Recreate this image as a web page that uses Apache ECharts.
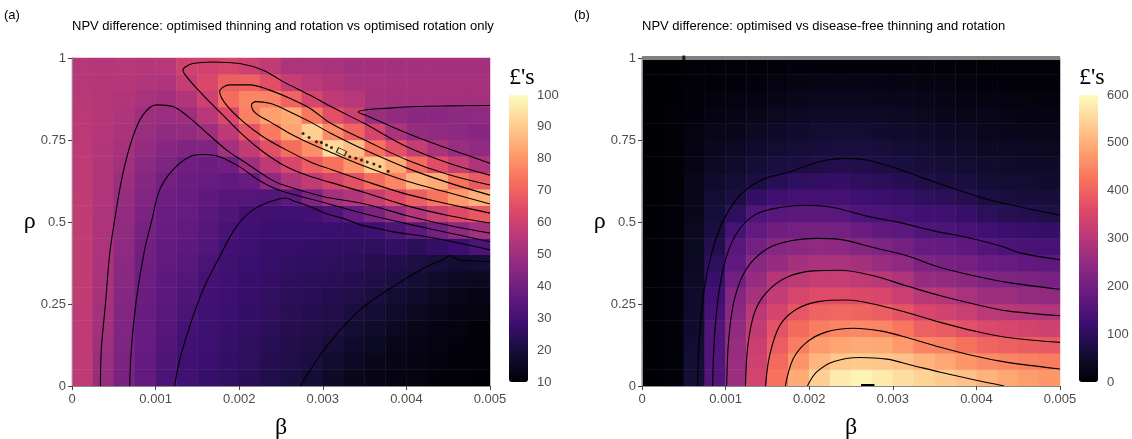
<!DOCTYPE html>
<html>
<head>
<meta charset="utf-8">
<title>NPV difference</title>
<script src="https://cdn.jsdelivr.net/npm/echarts@6/dist/echarts.min.js"></script>
<style>
  html, body { margin: 0; background: #fff; }
  #chart { width: 1132px; height: 439px; }
</style>
</head>
<body>
<div id="chart"></div>
<script>
// raster cell centres
const betaCells = [0.000125, 0.000375, 0.000625, 0.000875, 0.001125, 0.001375, 0.001625, 0.001875, 0.002125, 0.002375,
  0.002625, 0.002875, 0.003125, 0.003375, 0.003625, 0.003875, 0.004125, 0.004375, 0.004625, 0.004875]
const rhoCells = [0.025, 0.075, 0.125, 0.175, 0.225, 0.275, 0.325, 0.375, 0.425, 0.475,
  0.525, 0.575, 0.625, 0.675, 0.725, 0.775, 0.825, 0.875, 0.925, 0.975]

// (a) NPV difference, one array per beta column, rho from bottom to top
const npvThinRot = [
  [57, 57, 57, 57, 57, 57.5, 57.5, 57.5, 57.5, 57.5, 57.5, 57.5, 57, 57, 56.5, 56, 56, 55.5, 55, 55],
  [48.5, 49, 49.7, 50.3, 51, 51.5, 52, 52.5, 52.8, 53, 53.2, 53.5, 53.8, 54, 54.2, 54.5, 54.5, 54.5, 54.5, 54.5],
  [41.8, 42.3, 42.8, 43.3, 43.8, 44.5, 45.2, 45.8, 46.4, 47, 47.6, 48.4, 49.3, 50.5, 51.5, 52.5, 53.2, 54, 54.5, 55],
  [36.6, 37, 37.4, 37.8, 38.2, 38.6, 39.2, 39.6, 40.2, 41.3, 42.5, 43.5, 44.7, 46, 47.5, 49, 50, 52, 53.5, 54.5],
  [31.9, 32.5, 33.2, 33.9, 34.5, 35.3, 36, 36.7, 37.3, 37.8, 38.4, 39.2, 40.7, 42.8, 45, 47, 48.8, 51, 53.2, 55],
  [29, 29.4, 29.8, 30.3, 31.2, 32.5, 33.6, 34.8, 35.8, 36.6, 37.4, 38.2, 38.9, 39.6, 43, 47.5, 50, 54, 58, 60.5],
  [27.4, 28, 28.3, 28.7, 29, 29.5, 30.2, 31.5, 33, 34, 35, 36, 37.5, 39, 43, 50, 55, 60, 63, 61],
  [25.7, 26.4, 26.8, 27.3, 27.8, 28.3, 28.8, 29.3, 29.8, 31, 32.5, 34, 36.5, 39.7, 51, 56.5, 63, 72, 69, 62],
  [24, 24.9, 25.4, 25.9, 26.5, 27, 27.5, 28, 28.6, 29.1, 29.9, 33.8, 37.9, 50.2, 57.6, 66.5, 76, 77, 69.5, 60],
  [22.4, 23.4, 23.9, 24.3, 25.2, 25.7, 26.3, 26.9, 27.4, 28, 29.3, 33, 46.8, 56.3, 65.6, 75, 82, 76.7, 65.2, 57],
  [20.7, 21.9, 22.4, 23.1, 23.8, 24.5, 25.1, 25.7, 27, 28, 29, 35.8, 53.4, 62.4, 72.4, 83, 84, 70, 58.5, 53],
  [19, 20.5, 21.5, 22.3, 23, 23.8, 24.5, 25.3, 26.5, 27.8, 29.5, 43, 57.5, 68.6, 79, 91, 74.4, 62, 56, 53],
  [16.5, 18, 19.5, 21, 22, 23, 24, 25, 26.2, 27.8, 32.4, 51, 61.7, 73.1, 93, 78.3, 65.6, 57, 54, 52],
  [14.5, 15.8, 17.2, 18.8, 20.4, 21.7, 23, 24.2, 25.6, 27.5, 37.5, 53.5, 65.9, 80, 88, 70, 60, 55, 52, 51],
  [13.5, 14.5, 15.5, 17, 18.5, 20.3, 21.8, 23.2, 25, 28.5, 42.5, 58.5, 72.3, 90, 73.4, 61.7, 49, 51.5, 52, 51],
  [12.5, 13.2, 14, 15.2, 16.8, 18.6, 20.5, 22.5, 26, 32, 48.5, 64.3, 77.3, 84, 65.3, 52.7, 47, 51, 51.5, 51],
  [11.8, 12.3, 13, 13.8, 15, 16.8, 19, 21, 24.5, 35.4, 54.2, 69.1, 86, 71.6, 58.3, 48, 45.5, 51, 51.5, 51],
  [11.2, 11.6, 12.2, 12.8, 13.8, 15.2, 17, 19.8, 26.6, 40.4, 59.3, 73.7, 84, 64.9, 52.4, 47, 45.5, 51, 51.5, 51],
  [10.7, 11, 11.4, 11.9, 12.7, 14, 16, 18.5, 27.8, 46.3, 63.9, 81, 73.5, 58.6, 49, 46, 46, 51, 51.5, 51],
  [10.3, 10.6, 10.9, 11.3, 12, 13, 15, 19, 31.9, 51, 67.4, 85, 68.1, 53, 47, 45, 46.5, 51, 51.5, 51]
]

// (b) NPV difference, same layout
const npvDiseaseFree = [
  [2, 2, 2, 2, 2, 2, 2, 2, 2, 2, 2, 1, 1, 1, 1, 1, 1, 1, 1, 1],
  [7, 7, 7, 6.5, 6.5, 6, 6, 5.5, 5.5, 5, 5, 4.5, 4, 4, 3.5, 3, 3, 2, 2, 1],
  [60, 58, 55, 52, 49, 46, 43, 40, 37, 33, 30, 27, 24, 20, 17, 13, 10, 7, 5, 3],
  [155, 153, 152, 150, 137, 127, 115, 102, 85, 70, 62, 55, 48, 40, 32, 24, 17, 11, 6, 3],
  [262, 258, 255, 247, 238, 229, 199, 177, 164, 136, 100, 72, 60, 48, 38, 29, 21, 14, 8, 4],
  [343, 336, 327, 317, 306, 278, 254, 235, 204, 179, 150, 110, 73, 60, 48, 37, 27, 18, 10, 5],
  [421, 409, 391, 374, 344, 319, 297, 253, 231, 197, 162, 126, 90, 67, 55, 44, 33, 22, 13, 6],
  [495, 466, 437, 412, 380, 347, 311, 275, 239, 204, 168, 134, 102, 73, 62, 51, 40, 29, 18, 9],
  [540, 508, 475, 438, 400, 361, 321, 282, 244, 206, 168, 135, 107, 80, 66, 54, 42, 31, 20, 10],
  [575, 530, 488, 448, 406, 364, 322, 282, 242, 204, 165, 135, 110, 84, 68, 55, 43, 32, 21, 10],
  [590, 535, 494, 450, 402, 358, 314, 274, 230, 190, 148, 124, 100, 82, 67, 54, 42, 31, 20, 10],
  [575, 530, 491, 445, 392, 350, 302, 257, 219, 176, 142, 118, 95, 75, 64, 52, 41, 30, 19, 9],
  [560, 522, 472, 427, 377, 330, 288, 243, 205, 167, 137, 113, 89, 70, 60, 49, 38, 28, 17, 8],
  [545, 505, 446, 395, 350, 303, 254, 217, 182, 150, 126, 102, 78, 65, 55, 44, 34, 24, 15, 7],
  [535, 490, 441, 388, 340, 298, 247, 213, 180, 146, 121, 97, 72, 61, 50, 40, 30, 21, 13, 6],
  [522, 470, 423, 372, 326, 280, 238, 205, 172, 139, 114, 88, 67, 56, 45, 36, 27, 18, 11, 5],
  [505, 455, 403, 355, 308, 263, 223, 190, 155, 128, 100, 73, 60, 50, 40, 32, 24, 16, 9, 4],
  [490, 448, 396, 350, 303, 262, 220, 184, 147, 120, 91, 69, 57, 47, 38, 30, 22, 14, 8, 4],
  [478, 440, 389, 343, 299, 250, 214, 177, 141, 114, 84, 66, 54, 44, 35, 27, 19, 12, 7, 3],
  [470, 435, 384, 336, 295, 244, 209, 172, 137, 110, 78, 64, 52, 42, 33, 25, 18, 11, 6, 3]
]

// (a) contour paths [beta, rho]
const contA20 = [[0.00273, 0], [0.003044, 0.12], [0.003443, 0.232], [0.003842, 0.303], [0.004242, 0.364], [0.00444, 0.386],
  [0.00453, 0.398], [0.00458, 0.39], [0.00464, 0.384], [0.005, 0.379]]
const contA30 = [[0.001228, 0], [0.001287, 0.079], [0.001407, 0.181], [0.001567, 0.293], [0.001766, 0.394], [0.001966, 0.486],
  [0.002166, 0.537], [0.002405, 0.565], [0.00256, 0.573], [0.002645, 0.565], [0.002844, 0.547], [0.003044, 0.525],
  [0.003243, 0.511], [0.003443, 0.492], [0.003643, 0.481], [0.003842, 0.47], [0.004242, 0.455], [0.004641, 0.435], [0.005, 0.415]]
const contA40 = [[0.00069, 0], [0.000709, 0.11], [0.000769, 0.262], [0.000868, 0.415], [0.00095, 0.5], [0.001048, 0.598],
  [0.001207, 0.659], [0.001407, 0.699], [0.001567, 0.706], [0.001766, 0.699], [0.002006, 0.668], [0.00225, 0.625],
  [0.0025, 0.595], [0.003, 0.56], [0.0035, 0.525], [0.004, 0.495], [0.0045, 0.467], [0.005, 0.44]]
const contA50 = [[0.00034, 0], [0.00035, 0.11], [0.0004, 0.25], [0.00045, 0.4], [0.00051, 0.506], [0.000609, 0.648],
  [0.000728, 0.76], [0.000848, 0.826], [0.001008, 0.857], [0.001207, 0.852], [0.001367, 0.826], [0.001527, 0.791],
  [0.001846, 0.72], [0.002086, 0.679], [0.002325, 0.638], [0.0025, 0.615], [0.003, 0.578], [0.0035, 0.555],
  [0.004, 0.52], [0.0045, 0.49], [0.005, 0.466]]
const contA50Hook = [[0.005, 0.855], [0.004521, 0.854], [0.004122, 0.852], [0.00372, 0.846], [0.00352, 0.842], [0.003423, 0.835],
  [0.00352, 0.825], [0.003643, 0.811], [0.003922, 0.78], [0.004321, 0.74], [0.004721, 0.704], [0.005, 0.679]]
const contA60 = [[0.005, 0.643], [0.0045, 0.68], [0.004, 0.73], [0.0035, 0.8], [0.00315, 0.845], [0.002844, 0.887],
  [0.002525, 0.928], [0.002285, 0.963], [0.002006, 0.983], [0.001686, 0.988], [0.001447, 0.983], [0.001327, 0.963],
  [0.001387, 0.938], [0.001567, 0.887], [0.001806, 0.826], [0.002046, 0.765], [0.002285, 0.714], [0.002525, 0.674],
  [0.002804, 0.643], [0.0031, 0.62], [0.0035, 0.59], [0.004, 0.55], [0.0045, 0.52], [0.005, 0.497]]
const contA70 = [[0.005, 0.613], [0.0045, 0.645], [0.004, 0.69], [0.0035, 0.75], [0.0031, 0.8], [0.002844, 0.847],
  [0.002605, 0.877], [0.002365, 0.902], [0.002126, 0.918], [0.001886, 0.918], [0.001766, 0.897], [0.001846, 0.857],
  [0.002046, 0.806], [0.002285, 0.76], [0.002525, 0.725], [0.002844, 0.684], [0.0031, 0.66], [0.0035, 0.625],
  [0.004, 0.585], [0.0045, 0.555], [0.005, 0.527]]
const contA80 = [[0.005, 0.582], [0.0045, 0.62], [0.004, 0.665], [0.0035, 0.72], [0.0031, 0.77], [0.002844, 0.806],
  [0.002565, 0.841], [0.002365, 0.862], [0.0022, 0.867], [0.002146, 0.857], [0.0022, 0.831], [0.002365, 0.806],
  [0.002605, 0.77], [0.002844, 0.74], [0.0031, 0.712], [0.0035, 0.67], [0.004, 0.625], [0.0045, 0.59], [0.005, 0.555]]
// small islands along the ridge crest
const ridgeIslands = [[0.002764, 0.77], [0.002836, 0.758], [0.002924, 0.745], [0.002984, 0.742], [0.003044, 0.735],
  [0.003104, 0.727], [0.003323, 0.699], [0.003395, 0.694], [0.003463, 0.689], [0.003531, 0.683], [0.003611, 0.677],
  [0.003683, 0.669], [0.003782, 0.655]]
const ridgeLoop = [[0.003224, 0.714]]

// (b) contour paths, levels 75 apart
const contB075 = [[0.000665, 0], [0.000685, 0.143], [0.000745, 0.295], [0.000825, 0.397], [0.000925, 0.478], [0.001046, 0.539],
  [0.001206, 0.59], [0.001446, 0.63], [0.001727, 0.65], [0.001968, 0.671], [0.002208, 0.689], [0.002448, 0.694],
  [0.002689, 0.689], [0.003008, 0.666], [0.00341, 0.63], [0.00381, 0.595], [0.00421, 0.564], [0.005, 0.521]]
const contB150 = [[0.000845, 0], [0.000865, 0.143], [0.000925, 0.295], [0.001026, 0.407], [0.001166, 0.478], [0.001366, 0.524],
  [0.001647, 0.544], [0.001968, 0.551], [0.002288, 0.544], [0.002689, 0.518], [0.003089, 0.498], [0.003489, 0.473],
  [0.00389, 0.453], [0.004291, 0.427], [0.004531, 0.405], [0.005, 0.385]]
const contB225 = [[0.001013, 0], [0.001037, 0.143], [0.001106, 0.265], [0.001246, 0.356], [0.001487, 0.417], [0.001767, 0.442],
  [0.002087, 0.45], [0.002368, 0.447], [0.002768, 0.422], [0.003169, 0.397], [0.00357, 0.361], [0.00397, 0.336],
  [0.004371, 0.316], [0.005, 0.295]]
const contB300 = [[0.001238, 0], [0.001266, 0.123], [0.001346, 0.224], [0.001487, 0.285], [0.001727, 0.331], [0.002047, 0.351],
  [0.002368, 0.353], [0.002768, 0.336], [0.003169, 0.305], [0.00357, 0.275], [0.00397, 0.25], [0.004371, 0.229], [0.005, 0.214]]
const contB375 = [[0.001478, 0], [0.001526, 0.092], [0.001647, 0.184], [0.001847, 0.234], [0.002127, 0.258], [0.002448, 0.262],
  [0.002768, 0.25], [0.003169, 0.224], [0.00357, 0.194], [0.00397, 0.168], [0.004371, 0.148], [0.005, 0.133]]
const contB450 = [[0.001715, 0], [0.001807, 0.082], [0.001968, 0.133], [0.002208, 0.165], [0.002528, 0.176], [0.002849, 0.168],
  [0.003169, 0.148], [0.00357, 0.118], [0.00397, 0.092], [0.004371, 0.072], [0.005, 0.052]]
const contB525 = [[0.001979, 0], [0.002087, 0.042], [0.002288, 0.074], [0.002608, 0.087], [0.002929, 0.082], [0.003249, 0.062],
  [0.00357, 0.042], [0.00397, 0.019], [0.004331, 0]]
const contB600 = [[0.00262, 0.003], [0.00278, 0.003]]
// rho = 1 row has no value (grey) with one dark cell
const naRowB = [[0, 1], [0.005, 1]]
const darkCellB = [[0.0005, 1]]

const betaTicks = { min: 0, max: 0.005, interval: 0.001 }
const rhoTicks = { min: 0, max: 1, interval: 0.25 }
const magma = ['#000004', '#140e36', '#3b0f70', '#641a80', '#8c2981', '#b73779', '#de4968', '#f7705c', '#fe9f6d', '#fecf92', '#fcfdbf']

const sans = 'Liberation Sans, Arial, sans-serif'
const serif = 'Liberation Serif, Times New Roman, serif'
const border = '#8a8a8a'

function cells (cols) {
  const out = []
  cols.forEach((col, i) => col.forEach((v, j) => out.push([i, j, v])))
  return out
}

function contour (path, xi, extra) {
  return Object.assign({
    type: 'line',
    xAxisIndex: xi,
    yAxisIndex: xi,
    data: path,
    symbol: 'none',
    smooth: 0.35,
    silent: true,
    z: 4,
    lineStyle: { color: '#000', width: 1.1 }
  }, extra || {})
}

const plotTop = 58
const plotH = 328
const plotW = 418
const fixed = { containLabel: false, outerBoundsMode: 'none' }
const grids = [
  Object.assign({ left: 72, top: plotTop, width: plotW, height: plotH }, fixed),
  Object.assign({ left: 642, top: plotTop, width: plotW, height: plotH }, fixed),
  Object.assign({ left: 509, top: 95, width: 19, height: 287 }, fixed),
  Object.assign({ left: 1079, top: 95, width: 19, height: 287 }, fixed)
]

function catX (g, data) {
  return {
    gridIndex: g, type: 'category', data: data, position: 'top', z: 10,
    axisLine: { show: true, lineStyle: { color: border } },
    axisTick: { show: false }, axisLabel: { show: false }, splitLine: { show: false }
  }
}
function catY (g, data) {
  return {
    gridIndex: g, type: 'category', data: data, position: 'right', z: 10,
    axisLine: { show: true, lineStyle: { color: border } },
    axisTick: { show: false }, axisLabel: { show: false }, splitLine: { show: false }
  }
}
function valX (g) {
  return Object.assign({
    gridIndex: g, type: 'value', position: 'bottom', z: 10,
    name: 'β', nameLocation: 'middle', nameGap: 30,
    nameTextStyle: { fontFamily: serif, fontSize: 24, color: '#000' },
    axisLine: { show: true, lineStyle: { color: border } },
    axisTick: { show: true, length: 4, lineStyle: { color: '#444' } },
    axisLabel: { fontFamily: sans, fontSize: 13, color: '#4d4d4d', margin: 7 },
    splitLine: { show: false }
  }, betaTicks)
}
function valY (g) {
  return Object.assign({
    gridIndex: g, type: 'value', position: 'left', z: 10,
    name: 'ρ', nameLocation: 'middle', nameGap: 34, nameRotate: 0,
    nameTextStyle: { fontFamily: serif, fontSize: 24, color: '#000' },
    axisLine: { show: true, lineStyle: { color: border } },
    axisTick: { show: true, length: 4, lineStyle: { color: '#444' } },
    axisLabel: { fontFamily: sans, fontSize: 13, color: '#4d4d4d', margin: 6 },
    splitLine: { show: false }
  }, rhoTicks)
}
function barY (g, min, max, interval) {
  return {
    gridIndex: g, type: 'value', position: 'right', min: min, max: max, interval: interval,
    axisLine: { show: false },
    axisTick: { show: true, inside: true, length: 4, lineStyle: { color: 'rgba(255,255,255,0.7)' } },
    axisLabel: { fontFamily: sans, fontSize: 13, color: '#4d4d4d', margin: 9 },
    splitLine: { show: false }
  }
}
function legendMap (seriesIndex, min, max, left) {
  return {
    type: 'continuous', seriesIndex: seriesIndex, min: min, max: max,
    orient: 'vertical', left: left, top: 95, itemWidth: 19, itemHeight: 287,
    padding: 0, calculable: false, hoverLink: false, realtime: false,
    inRange: { color: magma }
  }
}
function heading (text, left, top, size, family) {
  return {
    text: text, left: left, top: top, padding: 0,
    textStyle: { fontFamily: family || sans, fontSize: size || 13, fontWeight: 'normal', color: '#000' }
  }
}

const chart = echarts.init(document.getElementById('chart'), null, { renderer: 'canvas' })
chart.setOption({
  animation: false,
  backgroundColor: '#fff',
  title: [
    heading('(a)', 4, 9),
    heading('NPV difference: optimised thinning and rotation vs optimised rotation only', 72, 20),
    heading('(b)', 574, 9),
    heading('NPV difference: optimised vs disease-free thinning and rotation', 642, 20),
    heading('£\'s', 509, 66, 24, serif),
    heading('£\'s', 1079, 66, 24, serif)
  ],
  grid: grids,
  xAxis: [
    catX(0, betaCells), valX(0),
    catX(1, betaCells), valX(1),
    { gridIndex: 2, type: 'value', show: false },
    { gridIndex: 3, type: 'value', show: false }
  ],
  yAxis: [
    catY(0, rhoCells), valY(0),
    catY(1, rhoCells), valY(1),
    barY(2, 10, 100, 10),
    barY(3, 0, 600, 100)
  ],
  visualMap: [
    legendMap(0, 10, 100, 509),
    legendMap(1, 0, 600, 1079)
  ],
  series: [
    { type: 'heatmap', xAxisIndex: 0, yAxisIndex: 0, data: cells(npvThinRot), silent: true, itemStyle: { borderWidth: 0 }, emphasis: { disabled: true } },
    { type: 'heatmap', xAxisIndex: 2, yAxisIndex: 2, data: cells(npvDiseaseFree), silent: true, itemStyle: { borderWidth: 0 }, emphasis: { disabled: true } },
    contour(contA20, 1), contour(contA30, 1), contour(contA40, 1), contour(contA50, 1),
    contour(contA50Hook, 1), contour(contA60, 1), contour(contA70, 1), contour(contA80, 1),
    {
      type: 'scatter', xAxisIndex: 1, yAxisIndex: 1, data: ridgeIslands, silent: true, z: 5,
      symbol: 'circle', symbolSize: 3, itemStyle: { color: '#000' }
    },
    {
      type: 'scatter', xAxisIndex: 1, yAxisIndex: 1, data: ridgeLoop, silent: true, z: 5,
      symbol: 'rect', symbolSize: [9, 5], symbolRotate: -25,
      itemStyle: { color: 'rgba(0,0,0,0)', borderColor: '#000', borderWidth: 1 }
    },
    contour(contB075, 3), contour(contB150, 3), contour(contB225, 3), contour(contB300, 3),
    contour(contB375, 3), contour(contB450, 3), contour(contB525, 3),
    contour(contB600, 3, { smooth: false, lineStyle: { color: '#000', width: 2 } }),
    contour(naRowB, 3, { smooth: false, clip: false, z: 6, lineStyle: { color: '#808080', width: 4 } }),
    {
      type: 'scatter', xAxisIndex: 3, yAxisIndex: 3, data: darkCellB, silent: true, z: 7,
      symbol: 'rect', symbolSize: [3, 5], itemStyle: { color: '#000' }
    }
  ]
})
</script>
</body>
</html>
